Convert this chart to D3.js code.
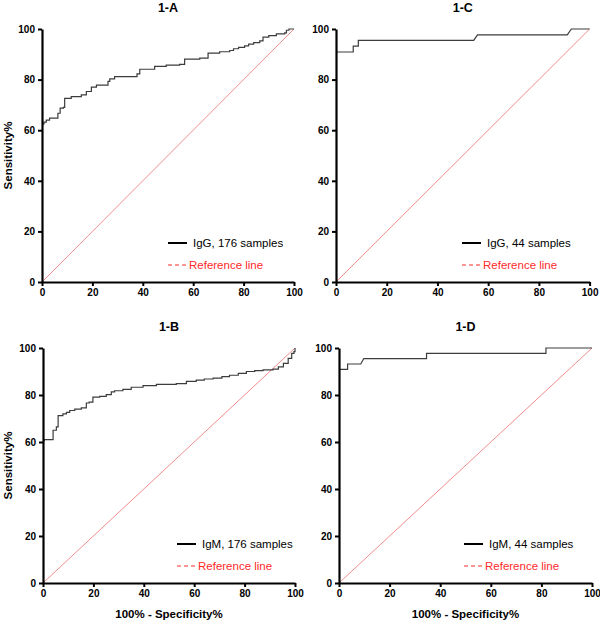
<!DOCTYPE html>
<html>
<head>
<meta charset="utf-8">
<script src="https://cdn.jsdelivr.net/npm/d3@7"></script>
<style>
  body { margin: 0; background: #fff; }
  svg { font-family: "Liberation Sans", Arial, sans-serif; }
</style>
</head>
<body>
<script>
// tick values shared by both axes
const ticks = [0, 20, 40, 60, 80, 100];

// 1-A : IgG, 176 samples (step breakpoints, 100% - specificity / sensitivity)
const fprA = [0, 0.8, 1.7, 3, 6.3, 7.2, 8.5, 9, 11.6, 15.6, 17.6, 19.6, 21.6, 26.2, 26.9, 28.8, 37.7, 38.8, 44.7, 49.3, 54.6, 56.6, 62.6, 65.9, 70.5, 74.5, 76, 78, 80.4, 82, 84, 86.4, 87.7, 90, 93, 96.3, 97, 98, 100];
const tprA = [62.5, 63.2, 64, 64.8, 66.7, 68.7, 69, 72.6, 73.3, 74, 75.3, 77, 77.8, 79.3, 80.3, 81.2, 82.3, 84.1, 85.2, 85.7, 86, 88.1, 88.5, 90.5, 91, 91.5, 92.2, 92.7, 93.3, 94, 94.6, 95.3, 96.8, 97.4, 98.1, 98.5, 99.5, 100, 100];

// 1-B : IgM, 176 samples
const fprB = [0, 0.5, 4, 5.3, 6, 7.9, 9.3, 10.6, 12.6, 15.2, 17.2, 18.3, 19.8, 22.5, 25.1, 27.1, 28.4, 31.7, 35, 39.7, 45, 52.9, 56.9, 60.8, 64, 67.5, 71, 74, 77.5, 80.7, 84, 87.3, 91.3, 93.4, 95.4, 97.3, 98.7, 99.6, 100];
const tprB = [60.6, 61, 65, 66.4, 71.2, 72, 72.6, 73.4, 74, 74.5, 76.6, 77, 79.1, 79.4, 80.2, 81.3, 81.8, 82.4, 83.3, 84, 84.5, 84.8, 85.8, 86.3, 86.8, 87.2, 87.8, 88.4, 89.2, 90, 90.4, 90.7, 91, 92, 93.5, 95.6, 97.7, 98.5, 100];

// 1-C : IgG, 44 samples (ROC points)
const fprC = [0, 6.8, 6.8, 8.8, 8.8, 54.3, 55.8, 91.2, 92.8, 100];
const tprC = [90.9, 90.9, 93.2, 93.2, 95.5, 95.5, 97.7, 97.7, 100, 100];

// 1-D : IgM, 44 samples
const fprD = [0, 3.4, 3.4, 8.6, 9.8, 34.6, 34.6, 81.8, 81.8, 100];
const tprD = [90.9, 90.9, 93.2, 93.2, 95.5, 95.5, 97.7, 97.7, 100, 100];

const panels = [
  { title: "1-A", series: "IgG, 176 samples", fpr: fprA, tpr: tprA, step: true,
    box: [42, 294, 29, 282], legX: 168, yLabel: true, xLabel: false },
  { title: "1-C", series: "IgG, 44 samples", fpr: fprC, tpr: tprC, step: false,
    box: [336, 589.6, 29, 282], legX: 462, yLabel: false, xLabel: false },
  { title: "1-B", series: "IgM, 176 samples", fpr: fprB, tpr: tprB, step: true,
    box: [43, 295, 348, 583], legX: 177, yLabel: true, xLabel: true },
  { title: "1-D", series: "IgM, 44 samples", fpr: fprD, tpr: tprD, step: false,
    box: [339, 592, 348, 583], legX: 464, yLabel: false, xLabel: true }
];

const svg = d3.select("body").append("svg")
    .attr("width", 600)
    .attr("height", 620);

panels.forEach(function(p) {
    const [x0, x1, y0, y1] = p.box;
    const x = d3.scaleLinear().domain([0, 100]).range([x0, x1]);
    const y = d3.scaleLinear().domain([0, 100]).range([y1, y0]);
    const g = svg.append("g");

    // diagonal reference line
    g.append("path")
        .datum([[0, 0], [100, 100]])
        .attr("d", d3.line().x(d => x(d[0])).y(d => y(d[1])))
        .attr("fill", "none")
        .attr("stroke", "#f28c8c")
        .attr("stroke-width", 1);

    const pts = p.fpr.map((v, i) => [v, p.tpr[i]]);
    const line = d3.line()
        .x(d => x(d[0]))
        .y(d => y(d[1]))
        .curve(p.step ? d3.curveStepAfter : d3.curveLinear);

    g.append("path")
        .datum(pts)
        .attr("d", line)
        .attr("fill", "none")
        .attr("stroke", "#3c3c3c")
        .attr("stroke-width", 1.2);

    // axes
    const xAxis = g.append("g")
        .attr("transform", "translate(0," + y1 + ")")
        .call(d3.axisBottom(x).tickValues(ticks).tickSize(4).tickSizeOuter(0).tickPadding(3));
    const yAxis = g.append("g")
        .attr("transform", "translate(" + x0 + ",0)")
        .call(d3.axisLeft(y).tickValues(ticks).tickSize(4).tickSizeOuter(0).tickPadding(3));

    [xAxis, yAxis].forEach(function(a) {
        a.select(".domain").attr("stroke", "#000").attr("stroke-width", 2.2);
        a.selectAll(".tick line").attr("stroke", "#000").attr("stroke-width", 2);
        a.selectAll(".tick text")
            .attr("fill", "#000")
            .style("font-size", "10px")
            .style("font-weight", "bold");
    });

    // title
    g.append("text")
        .attr("x", (x0 + x1) / 2)
        .attr("y", y0 - 17)
        .attr("text-anchor", "middle")
        .style("font-size", "12.5px")
        .style("font-weight", "bold")
        .text(p.title);

    if (p.yLabel) {
        g.append("text")
            .attr("transform", "translate(12," + (y0 + y1) / 2 + ") rotate(-90)")
            .attr("text-anchor", "middle")
            .style("font-size", "11.5px")
            .style("font-weight", "bold")
            .text("Sensitivity%");
    }
    if (p.xLabel) {
        g.append("text")
            .attr("x", (x0 + x1) / 2)
            .attr("y", 618)
            .attr("text-anchor", "middle")
            .style("font-size", "11.5px")
            .style("font-weight", "bold")
            .text("100% - Specificity%");
    }

    // legend
    const ly = y1 - 39, ly2 = y1 - 17;
    g.append("line")
        .attr("x1", p.legX).attr("x2", p.legX + 19)
        .attr("y1", ly).attr("y2", ly)
        .attr("stroke", "#000").attr("stroke-width", 2);
    g.append("text")
        .attr("x", p.legX + 25).attr("y", ly + 4)
        .style("font-size", "11.5px")
        .text(p.series);
    g.append("line")
        .attr("x1", p.legX).attr("x2", p.legX + 18)
        .attr("y1", ly2).attr("y2", ly2)
        .attr("stroke", "#ff2a2a").attr("stroke-width", 1)
        .attr("stroke-dasharray", "4,3");
    g.append("text")
        .attr("x", p.legX + 21).attr("y", ly2 + 4)
        .attr("fill", "#ff2a2a")
        .style("font-size", "11.5px")
        .text("Reference line");
});
</script>
</body>
</html>
